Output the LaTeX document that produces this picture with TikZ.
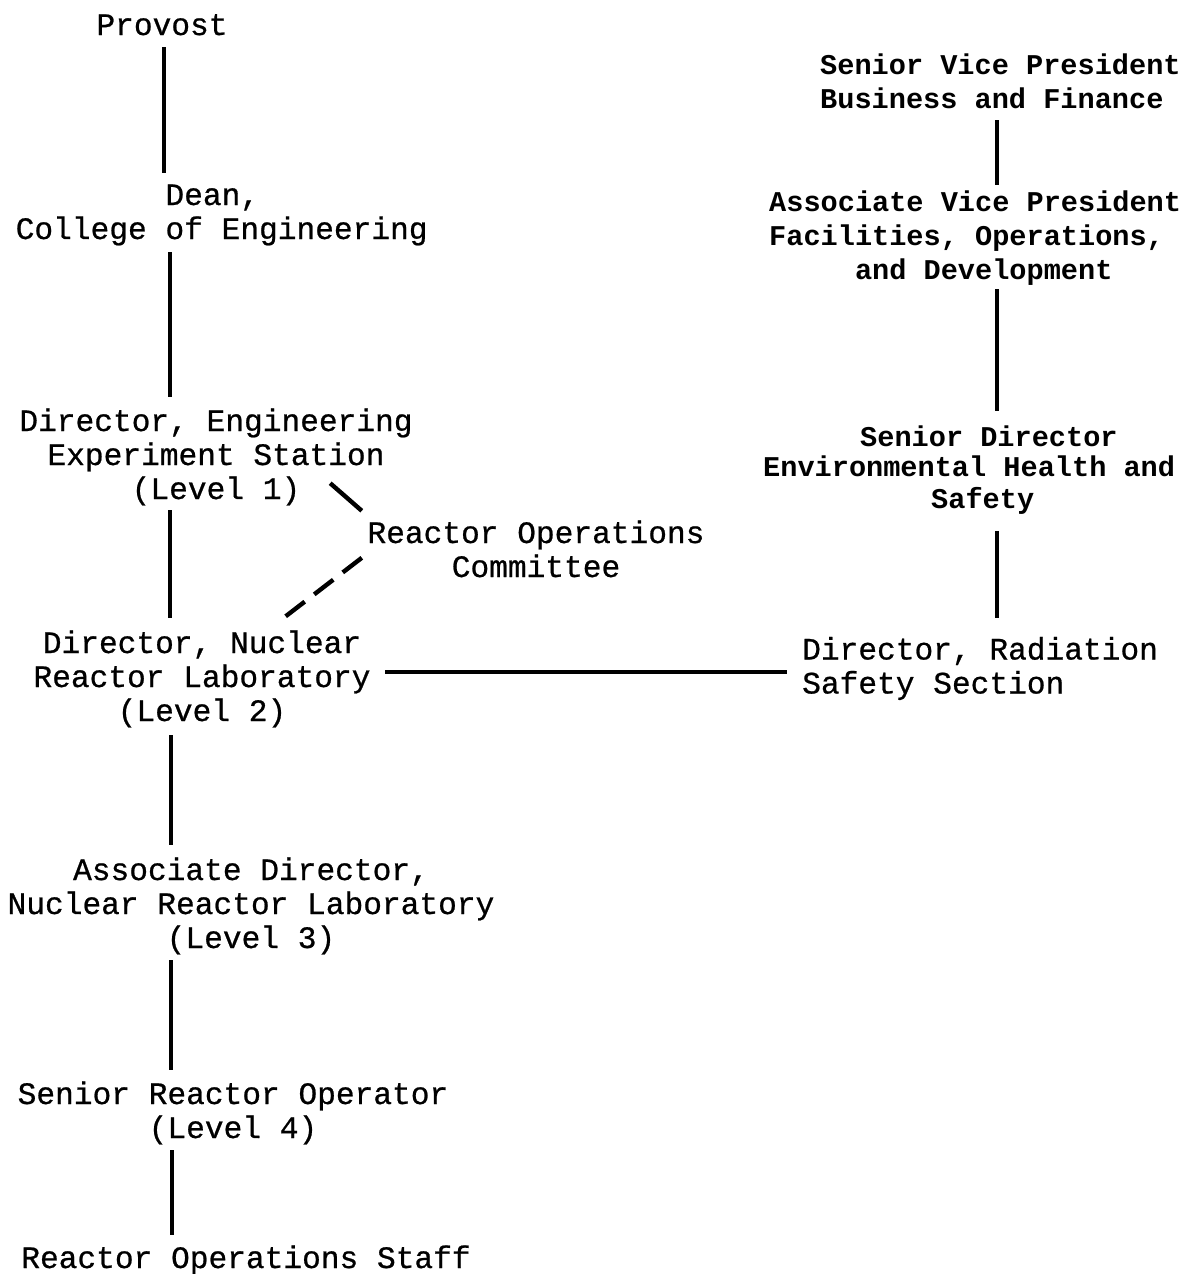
\documentclass[tikz,border=0pt]{standalone}
\usepackage{fontspec}
\newfontfamily\orgfont[FakeBold=0.7]{Liberation Mono}
\newfontfamily\orgbold{Liberation Mono Bold}
\usetikzlibrary{calc}
\tikzset{
  reg/.style={inner sep=0pt, font=\orgfont\fontsize{31.2}{34}\selectfont, align=center},
  boldr/.style={inner sep=0pt, font=\orgbold\fontsize{28.6}{34}\selectfont, align=left, anchor=west},
  boldt/.style={inner sep=0pt, font=\orgbold\fontsize{28.6}{30}\selectfont, align=left, anchor=west},
  link/.style={line width=4.8pt},
  dlink/.style={line width=4.4pt, dash pattern=on 24pt off 12pt},
}
\begin{document}
\begin{tikzpicture}[x=1pt,y=-1pt]
\useasboundingbox[fill=white] (0,0) rectangle (1185,1274);
% columns / rows for connectors
\coordinate (colA) at (164,0);
\coordinate (colB) at (170,0);
\coordinate (colC) at (171,0);
\coordinate (colD) at (172,0);
\coordinate (colR) at (997,0);
\coordinate (rowH) at (0,672);
% left chain
\node[reg] (provost) at (162,28.2) {\strut Provost};
\node[reg, align=left, anchor=west] (dean) at (15.5,215.2) {\strut\hphantom{XXXXXXXX}Dean,\\\strut College of Engineering};
\node[reg] (ees) at (216,458.2) {\strut Director, Engineering\\\strut Experiment Station\\\strut (Level 1)};
\node[reg] (roc) at (536,553.2) {\strut Reactor Operations\\\strut Committee};
\node[reg] (nrl) at (202,680.2) {\strut Director, Nuclear\\\strut Reactor Laboratory\\\strut (Level 2)};
\node[reg] (assoc) at (251,907.2) {\strut Associate Director,\\\strut Nuclear Reactor Laboratory\\\strut (Level 3)};
\node[reg] (sro) at (233,1114.2) {\strut Senior Reactor Operator\\\strut (Level 4)};
\node[reg] (staff) at (246,1261.2) {\strut Reactor Operations Staff};
% right chain
\node[boldr] (svp) at (820,84.7) {\strut Senior Vice President\\\strut Business and Finance};
\node[boldr] (avp) at (769,238.2) {\strut Associate Vice President\\\strut Facilities, Operations,\\\strut\hphantom{XXXXX}and Development};
\node[boldt] (srdir) at (763,471.5) {\strut\hspace*{97pt}Senior Director\\\strut Environmental Health and\\\strut\hspace*{168pt}Safety};
\node[reg, align=left, anchor=west] (rss) at (802,669.7) {\strut Director, Radiation\\\strut Safety Section};
% connectors
\draw[link, shorten <=1.8pt, shorten >=8.2pt] (provost.south -| colA) -- (dean.north -| colA);
\draw[link, shorten <=2.8pt, shorten >=10.2pt] (dean.south -| colB) -- (ees.north -| colB);
\draw[link, shorten <=0.8pt, shorten >=11.2pt] (ees.south -| colB) -- (nrl.north -| colB);
\draw[link, shorten <=3.8pt, shorten >=11.2pt] (nrl.south -| colC) -- (assoc.north -| colC);
\draw[link, shorten <=1.8pt, shorten >=10.2pt] (assoc.south -| colC) -- (sro.north -| colC);
\draw[link, shorten <=1.8pt, shorten >=9.2pt] (sro.south -| colD) -- (staff.north -| colD);
\draw[link, shorten <=1.3pt, shorten >=2pt] (svp.south -| colR) -- (avp.north -| colR);
\draw[link, shorten >=14.5pt] (avp.south -| colR) -- (srdir.north -| colR);
\draw[link, shorten <=13.5pt, shorten >=17.7pt] (srdir.south -| colR) -- (rss.north -| colR);
\draw[link, line width=4.2pt, shorten <=14.5pt, shorten >=15pt] (nrl.east |- rowH) -- (rss.west |- rowH);
\draw[link, line width=4.4pt] ($(ees.south east)+(-82.6,-26.2)$) -- ($(roc.north west)+(-5.5,-8.2)$);
\draw[dlink] ($(roc.north west)+(-5.5,38.8)$) -- ($(nrl.north)+(83,-12.2)$);
\end{tikzpicture}
\end{document}
